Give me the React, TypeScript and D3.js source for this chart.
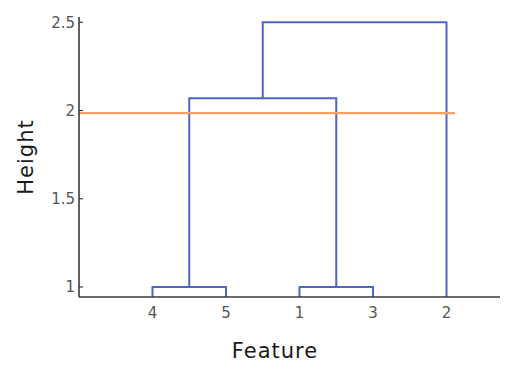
import React from "react";
import * as d3 from "d3";

const leafOrder = ["4", "5", "1", "3", "2"];
const yTicks = [1, 1.5, 2, 2.5];
const yTickLabels = ["1", "1.5", "2", "2.5"];
const mergeLeft = ["4", "1", "A", "C"];
const mergeRight = ["5", "3", "B", "2"];
const mergeName = ["A", "B", "C", "D"];
const mergeHeight = [1.0, 1.0, 2.07, 2.5];
const cutHeight = 1.985;

const W = 514;
const H = 365;

export default function App() {
  const x = d3.scaleLinear().domain([0, 6]).range([79, 520]);
  const y = d3.scaleLinear().domain([0.943, 2.53]).range([297, 17]);
  const blue = "#5166c2";
  const orange = "#f7a066";
  const axisColor = "#3a3a3a";
  const tickColor = "#555";

  const pos: Record<string, number> = {};
  const ht: Record<string, number> = {};
  leafOrder.forEach((l, i) => {
    pos[l] = i + 1;
    ht[l] = 0.943;
  });
  const paths: string[] = [];
  mergeName.forEach((n, i) => {
    const a = mergeLeft[i];
    const b = mergeRight[i];
    const h = mergeHeight[i];
    const p = d3.path();
    p.moveTo(x(pos[a]), y(ht[a]));
    p.lineTo(x(pos[a]), y(h));
    p.lineTo(x(pos[b]), y(h));
    p.lineTo(x(pos[b]), y(ht[b]));
    paths.push(p.toString());
    pos[n] = (pos[a] + pos[b]) / 2;
    ht[n] = h;
  });

  const font = "'DejaVu Sans', Arial, sans-serif";

  return (
    <svg width={W} height={H} style={{ position: "absolute", left: 0, top: 0, background: "#fff" }}>
      {paths.map((d, i) => (
        <path key={i} d={d} fill="none" stroke={blue} strokeWidth={2} />
      ))}
      <line x1={x(0)} x2={455} y1={y(cutHeight)} y2={y(cutHeight)} stroke={orange} strokeWidth={2.2} />
      <line x1={79} x2={79} y1={17} y2={297} stroke={axisColor} strokeWidth={1.6} />
      <line x1={79} x2={500} y1={297} y2={297} stroke={axisColor} strokeWidth={1.6} />
      {yTicks.map((t, i) => (
        <g key={t}>
          <line x1={79} x2={83} y1={y(t)} y2={y(t)} stroke={axisColor} strokeWidth={1.2} />
          <text
            x={75}
            y={y(t)}
            dy="0.36em"
            textAnchor="end"
            fontFamily={font}
            fontSize={15}
            fill={tickColor}
          >
            {yTickLabels[i]}
          </text>
        </g>
      ))}
      {leafOrder.map((l, i) => (
        <text
          key={l}
          x={x(i + 1)}
          y={318}
          textAnchor="middle"
          fontFamily={font}
          fontSize={15}
          fill={tickColor}
        >
          {l}
        </text>
      ))}
      <text
        x={275}
        y={358}
        textAnchor="middle"
        fontFamily={font}
        fontSize={21}
        letterSpacing={1}
        fill="#1a1a1a"
      >
        Feature
      </text>
      <text
        transform={`translate(33,157) rotate(-90)`}
        textAnchor="middle"
        fontFamily={font}
        fontSize={21}
        letterSpacing={1}
        fill="#1a1a1a"
      >
        Height
      </text>
    </svg>
  );
}
